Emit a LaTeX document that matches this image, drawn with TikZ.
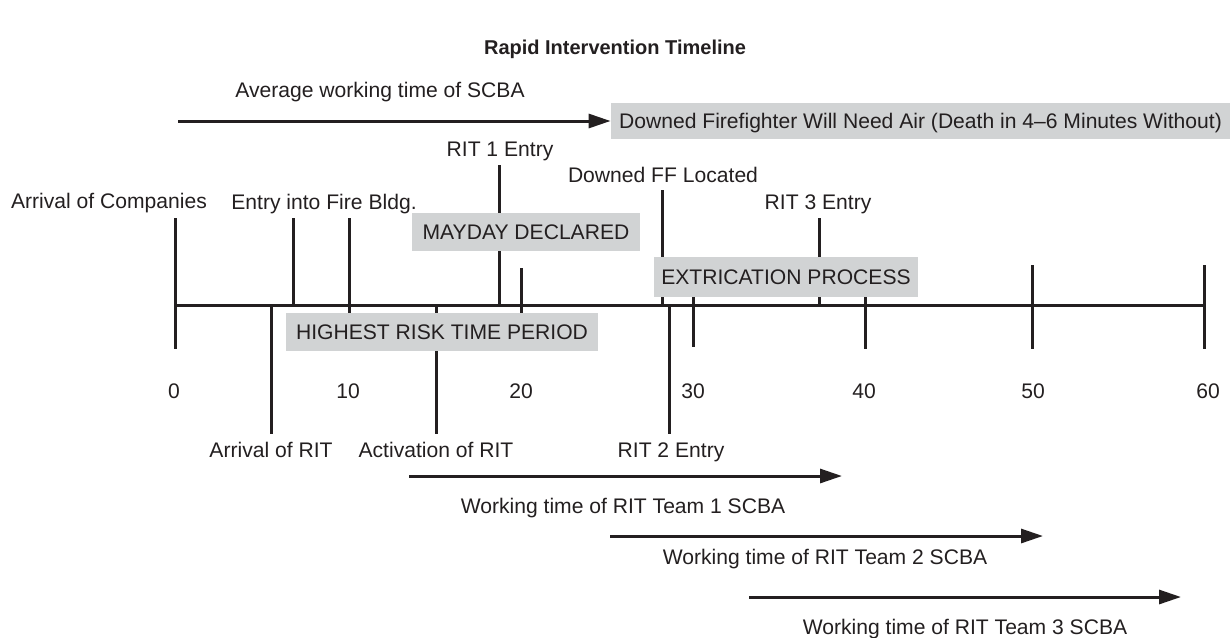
\documentclass[tikz,border=0pt]{standalone}
\usepackage{fontspec}
\setmainfont{Liberation Sans}
\usetikzlibrary{arrows.meta}
\definecolor{ink}{RGB}{35,31,32}
\definecolor{boxgray}{RGB}{209,211,212}
\begin{document}
\begin{tikzpicture}[x=0.5pt,y=-0.5pt,
  every node/.style={font=\fontsize{10.55}{12.6}\selectfont, text=ink},
  lbl/.style={inner sep=0pt, text height=7.55pt, text depth=0pt},
  title/.style={lbl, font=\fontsize{10}{12}\selectfont\bfseries},
  graybox/.style={fill=boxgray, inner sep=0pt, text height=7.55pt, text depth=0pt, minimum height=19pt},
  tickline/.style={draw=ink, line width=1.5pt},
  axisline/.style={draw=ink, line width=1.5pt},
  timearrow/.style={draw=ink, line width=1.5pt, -{Triangle[length=11pt,width=7pt]}}]
\useasboundingbox (0,0) rectangle (1230,637);

% title
\node[title] (title) at (615,47) {Rapid Intervention Timeline};

% ticks (drawn under the gray boxes)
\foreach \n/\x/\ya/\yb in {
  t0/175/218/349, arit/271/305/434, entry/293/218/305, t10/349/218/349,
  act/436/305/434, rit1/499/165/305, t20/521/268/349, dff/662/190/305,
  rit2/669/305/434, t30/693/265/347, rit3/819/218/305, t40/865/265/349,
  t50/1032/265/349, t60/1204/265/349}{
  \coordinate (\n a) at (\x,\ya);
  \coordinate (\n b) at (\x,\yb);
  \draw[tickline] (\n a) -- (\n b);
}

% axis
\coordinate (axL) at (175,305);
\coordinate (axR) at (1204,305);
\draw[axisline] (axL) -- (axR);

% gray boxes
\node[graybox, minimum width=309.5pt, minimum height=18pt] (downed) at (920.5,121)
  {Downed Firefighter Will Need Air (Death in 4–6 Minutes Without)};
\node[graybox, minimum width=114pt] (mayday) at (526,232) {MAYDAY DECLARED};
\node[graybox, minimum width=156pt] (risk) at (442,332) {HIGHEST RISK TIME PERIOD};
\node[graybox, minimum width=132pt, minimum height=20pt] (extr) at (786,276.5) {EXTRICATION PROCESS};

% event labels
\node[lbl] (lcomp) at (109,201) {Arrival of Companies};
\node[lbl] (lentry) at (324,202) {Entry into Fire Bldg.};
\node[lbl] (lrit1) at (500,148.5) {RIT 1 Entry};
\node[lbl] (ldff) at (663,174.5) {Downed FF Located};
\node[lbl] (lrit3) at (818,201.5) {RIT 3 Entry};
\node[lbl] (larit) at (271,450) {Arrival of RIT};
\node[lbl] (lact) at (436,450) {Activation of RIT};
\node[lbl] (lrit2) at (671,450) {RIT 2 Entry};

% minute numbers
\foreach \n/\x/\t in {n0/174/0, n10/348/10, n20/521/20, n30/693/30, n40/864/40, n50/1033/50, n60/1208/60}{
  \node[lbl] (\n) at (\x,391) {\t};
}

% working time arrows
\coordinate (a0s) at (178,121);
\draw[timearrow] (a0s) -- (downed.west);
\node[lbl] (la0) at (380,90) {Average working time of SCBA};

\coordinate (a1s) at (409,476);
\coordinate (a1e) at (842,476);
\draw[timearrow] (a1s) -- (a1e);
\node[lbl] (la1) at (623,506) {Working time of RIT Team 1 SCBA};

\coordinate (a2s) at (610,536);
\coordinate (a2e) at (1043,536);
\draw[timearrow] (a2s) -- (a2e);
\node[lbl] (la2) at (825,557) {Working time of RIT Team 2 SCBA};

\coordinate (a3s) at (749,597);
\coordinate (a3e) at (1181,597);
\draw[timearrow] (a3s) -- (a3e);
\node[lbl] (la3) at (965,627) {Working time of RIT Team 3 SCBA};
\end{tikzpicture}
\end{document}
